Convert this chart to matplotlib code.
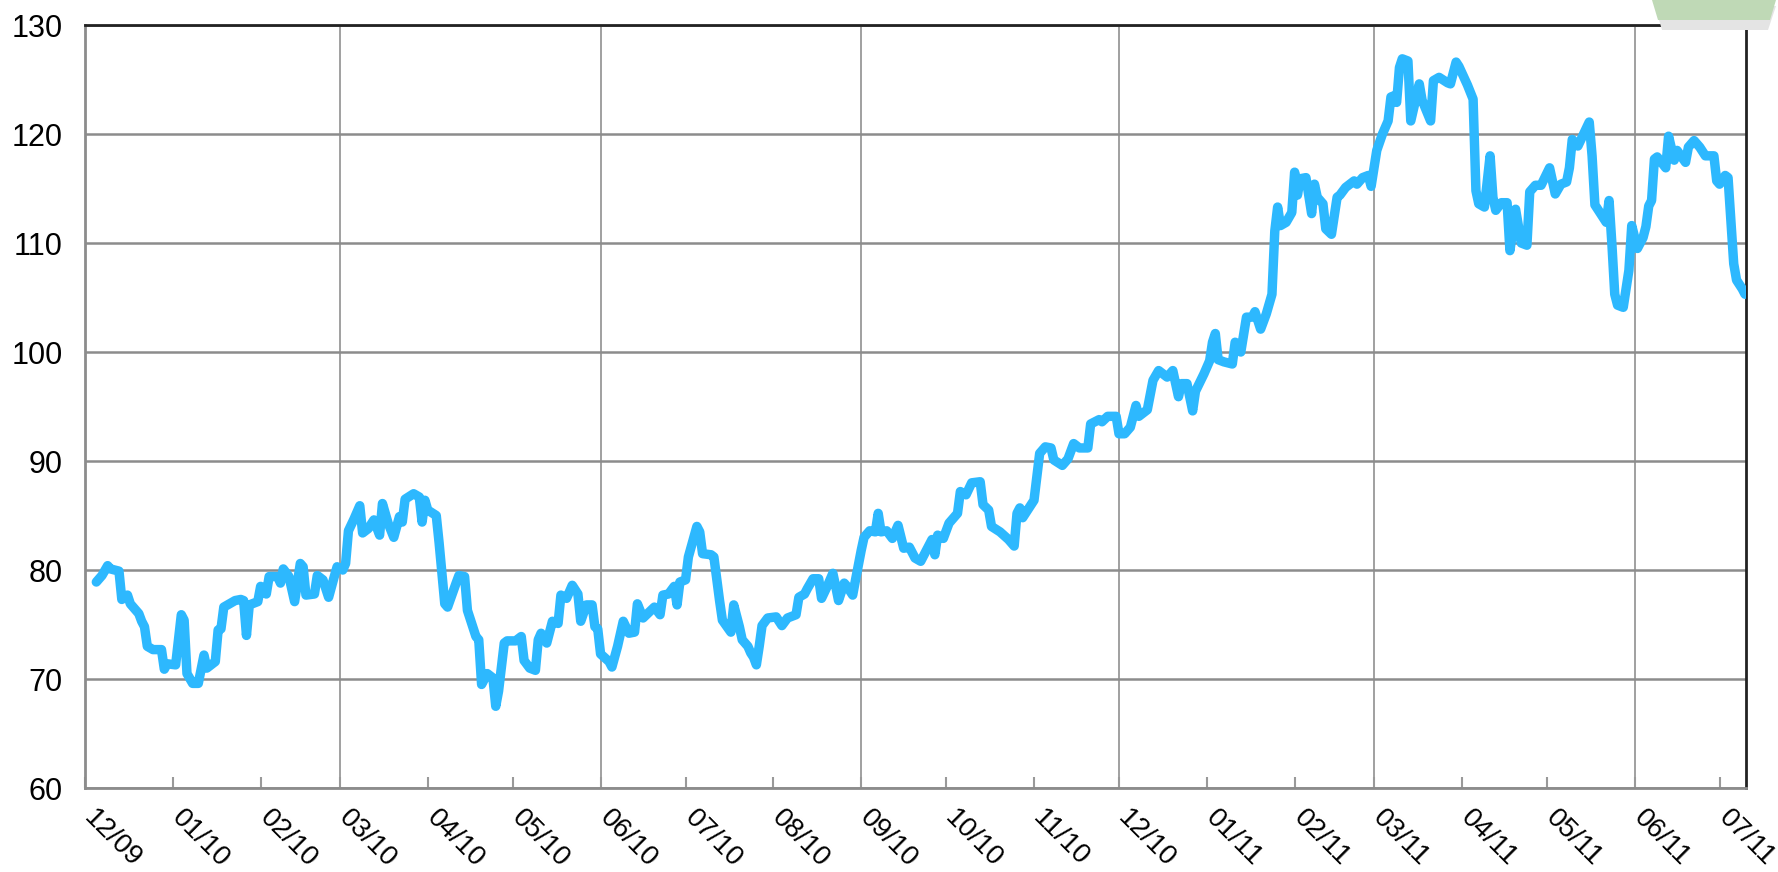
import matplotlib
matplotlib.use('Agg')
from matplotlib import pyplot as plt
import matplotlib.dates as mdates
import matplotlib.transforms as mtransforms
from matplotlib.patches import Polygon
import pandas as pd

plt.rcParams['font.family'] = ['Liberation Sans', 'DejaVu Sans']

# daily series (12/2009 - 07/2011)
dates = [
    '2009-12-05', '2009-12-07', '2009-12-09', '2009-12-10', '2009-12-13', '2009-12-14', '2009-12-16', '2009-12-17',
    '2009-12-20', '2009-12-21', '2009-12-22', '2009-12-23', '2009-12-25', '2009-12-28', '2009-12-29', '2009-12-30',
    '2010-01-02', '2010-01-04', '2010-01-05', '2010-01-06', '2010-01-08', '2010-01-10', '2010-01-12', '2010-01-13',
    '2010-01-16', '2010-01-17', '2010-01-18', '2010-01-19', '2010-01-23', '2010-01-25', '2010-01-26', '2010-01-27',
    '2010-01-28', '2010-01-31',
    '2010-02-01', '2010-02-03', '2010-02-04', '2010-02-07', '2010-02-08', '2010-02-09', '2010-02-11', '2010-02-13',
    '2010-02-15', '2010-02-16', '2010-02-17', '2010-02-20', '2010-02-21', '2010-02-23', '2010-02-25', '2010-02-27',
    '2010-02-28',
    '2010-03-02', '2010-03-03', '2010-03-04', '2010-03-06', '2010-03-08', '2010-03-09', '2010-03-11', '2010-03-13',
    '2010-03-15', '2010-03-16', '2010-03-18', '2010-03-20', '2010-03-22', '2010-03-23', '2010-03-24', '2010-03-27',
    '2010-03-29', '2010-03-30', '2010-03-31',
    '2010-04-01', '2010-04-04', '2010-04-05', '2010-04-07', '2010-04-08', '2010-04-11', '2010-04-12', '2010-04-14',
    '2010-04-15', '2010-04-18', '2010-04-19', '2010-04-20', '2010-04-22', '2010-04-24', '2010-04-25', '2010-04-26',
    '2010-04-28', '2010-04-29',
    '2010-05-02', '2010-05-04', '2010-05-05', '2010-05-07', '2010-05-09', '2010-05-10', '2010-05-11', '2010-05-13',
    '2010-05-15', '2010-05-17', '2010-05-18', '2010-05-20', '2010-05-22', '2010-05-24', '2010-05-25', '2010-05-27',
    '2010-05-29', '2010-05-30', '2010-05-31',
    '2010-06-01', '2010-06-04', '2010-06-05', '2010-06-07', '2010-06-09', '2010-06-11', '2010-06-13', '2010-06-14',
    '2010-06-16', '2010-06-20', '2010-06-22', '2010-06-23', '2010-06-25', '2010-06-27', '2010-06-28', '2010-06-29',
    '2010-07-01', '2010-07-02', '2010-07-05', '2010-07-06', '2010-07-07', '2010-07-10', '2010-07-11', '2010-07-13',
    '2010-07-14', '2010-07-17', '2010-07-18', '2010-07-20', '2010-07-21', '2010-07-23', '2010-07-24', '2010-07-25',
    '2010-07-26', '2010-07-27', '2010-07-28', '2010-07-30',
    '2010-08-02', '2010-08-04', '2010-08-06', '2010-08-09', '2010-08-10', '2010-08-12', '2010-08-13', '2010-08-15',
    '2010-08-17', '2010-08-18', '2010-08-20', '2010-08-22', '2010-08-23', '2010-08-24', '2010-08-26', '2010-08-27',
    '2010-08-29', '2010-08-30',
    '2010-09-01', '2010-09-02', '2010-09-04', '2010-09-06', '2010-09-07', '2010-09-08', '2010-09-10', '2010-09-12',
    '2010-09-14', '2010-09-16', '2010-09-18', '2010-09-20', '2010-09-22', '2010-09-24', '2010-09-26', '2010-09-27',
    '2010-09-28', '2010-09-30',
    '2010-10-02', '2010-10-05', '2010-10-06', '2010-10-08', '2010-10-10', '2010-10-13', '2010-10-14', '2010-10-16',
    '2010-10-17', '2010-10-20', '2010-10-23', '2010-10-25', '2010-10-26', '2010-10-27', '2010-10-28', '2010-10-31',
    '2010-11-01', '2010-11-03', '2010-11-05', '2010-11-07', '2010-11-08', '2010-11-11', '2010-11-13', '2010-11-15',
    '2010-11-17', '2010-11-20', '2010-11-21', '2010-11-24', '2010-11-25', '2010-11-27', '2010-11-30',
    '2010-12-01', '2010-12-03', '2010-12-05', '2010-12-07', '2010-12-08', '2010-12-11', '2010-12-13', '2010-12-15',
    '2010-12-18', '2010-12-20', '2010-12-22', '2010-12-23', '2010-12-25', '2010-12-27', '2010-12-28', '2010-12-31',
    '2011-01-02', '2011-01-03', '2011-01-04', '2011-01-05', '2011-01-07', '2011-01-10', '2011-01-11', '2011-01-13',
    '2011-01-15', '2011-01-17', '2011-01-18', '2011-01-20', '2011-01-22', '2011-01-24', '2011-01-25', '2011-01-26',
    '2011-01-27', '2011-01-29', '2011-01-31',
    '2011-02-01', '2011-02-02', '2011-02-03', '2011-02-05', '2011-02-07', '2011-02-08', '2011-02-09', '2011-02-11',
    '2011-02-12', '2011-02-14', '2011-02-16', '2011-02-17', '2011-02-19', '2011-02-22', '2011-02-23', '2011-02-25',
    '2011-02-27', '2011-02-28',
    '2011-03-02', '2011-03-04', '2011-03-06', '2011-03-07', '2011-03-08', '2011-03-09', '2011-03-10', '2011-03-11',
    '2011-03-13', '2011-03-14', '2011-03-17', '2011-03-18', '2011-03-21', '2011-03-22', '2011-03-24', '2011-03-27',
    '2011-03-28', '2011-03-30', '2011-03-31',
    '2011-04-03', '2011-04-05', '2011-04-06', '2011-04-07', '2011-04-09', '2011-04-11', '2011-04-12', '2011-04-13',
    '2011-04-15', '2011-04-17', '2011-04-18', '2011-04-20', '2011-04-22', '2011-04-24', '2011-04-25', '2011-04-27',
    '2011-04-29',
    '2011-05-02', '2011-05-04', '2011-05-06', '2011-05-08', '2011-05-09', '2011-05-10', '2011-05-12', '2011-05-14',
    '2011-05-16', '2011-05-17', '2011-05-18', '2011-05-20', '2011-05-22', '2011-05-23', '2011-05-24', '2011-05-25',
    '2011-05-26', '2011-05-28', '2011-05-30', '2011-05-31',
    '2011-06-02', '2011-06-04', '2011-06-05', '2011-06-06', '2011-06-07', '2011-06-08', '2011-06-09', '2011-06-12',
    '2011-06-13', '2011-06-15', '2011-06-16', '2011-06-19', '2011-06-20', '2011-06-22', '2011-06-24', '2011-06-26',
    '2011-06-29', '2011-06-30',
    '2011-07-01', '2011-07-03', '2011-07-04', '2011-07-06', '2011-07-07', '2011-07-09', '2011-07-10',
]
values = [
    78.9, 79.5, 80.4, 80.1, 79.9, 77.3, 77.7, 76.9,
    76.0, 75.3, 74.8, 73.0, 72.7, 72.7, 70.9, 71.4,
    71.3, 75.9, 75.4, 70.5, 69.6, 69.6, 72.2, 71.0,
    71.6, 74.5, 74.6, 76.6, 77.2, 77.3, 77.2, 74.0,
    76.8, 77.1,
    78.5, 77.8, 79.4, 79.4, 78.8, 80.1, 79.4, 77.1,
    80.6, 80.3, 77.7, 77.8, 79.5, 79.1, 77.5, 79.4,
    80.3,
    80.0, 80.6, 83.6, 84.7, 85.9, 83.4, 83.8, 84.6,
    83.2, 86.1, 84.3, 83.0, 84.9, 84.4, 86.5, 87.0,
    86.7, 84.4, 86.4,
    85.5, 85.0, 82.5, 76.9, 76.6, 78.8, 79.5, 79.4,
    76.3, 73.9, 73.6, 69.5, 70.5, 70.1, 67.5, 68.9,
    73.3, 73.5,
    73.5, 73.9, 71.7, 71.0, 70.8, 73.6, 74.2, 73.3,
    75.3, 75.1, 77.7, 77.4, 78.6, 77.8, 75.3, 76.8,
    76.8, 74.8, 74.6,
    72.3, 71.6, 71.1, 73.0, 75.3, 74.2, 74.3, 76.9,
    75.6, 76.6, 75.9, 77.7, 77.8, 78.5, 76.8, 78.9,
    79.1, 81.2, 84.0, 83.5, 81.5, 81.4, 81.2, 77.2,
    75.4, 74.3, 76.8, 74.8, 73.6, 73.0, 72.4, 72.0,
    71.3, 73.0, 74.9, 75.6,
    75.7, 74.9, 75.6, 75.9, 77.5, 77.8, 78.3, 79.2,
    79.2, 77.4, 78.5, 79.7, 78.5, 77.2, 78.8, 78.5,
    77.7, 79.1,
    81.8, 83.0, 83.6, 83.5, 85.2, 83.5, 83.6, 82.9,
    84.1, 82.0, 82.1, 81.1, 80.8, 81.8, 82.8, 81.4,
    83.2, 82.9,
    84.3, 85.2, 87.2, 86.9, 88.0, 88.1, 86.0, 85.5,
    84.0, 83.5, 82.8, 82.2, 85.2, 85.7, 84.8, 86.0,
    86.4, 90.7, 91.3, 91.2, 90.1, 89.6, 90.2, 91.6,
    91.2, 91.2, 93.4, 93.8, 93.6, 94.1, 94.1,
    92.5, 92.5, 93.1, 95.1, 94.1, 94.7, 97.4, 98.3,
    97.7, 98.3, 95.9, 97.1, 97.1, 94.6, 96.4, 98.0,
    99.2, 100.9, 101.7, 99.3, 99.1, 98.9, 100.9, 100.0,
    103.2, 103.2, 103.7, 102.1, 103.5, 105.3, 111.1, 113.3,
    111.6, 111.9, 112.8,
    116.5, 114.4, 115.9, 116.0, 112.7, 115.4, 114.2, 113.6,
    111.3, 110.8, 114.2, 114.4, 115.1, 115.7, 115.4, 116.0,
    116.2, 115.2,
    118.5, 120.0, 121.2, 123.4, 123.5, 122.9, 126.1, 126.9,
    126.7, 121.2, 124.6, 123.1, 121.2, 124.9, 125.2, 124.7,
    124.6, 126.6, 126.2,
    124.5, 123.2, 114.8, 113.6, 113.3, 118.0, 114.2, 113.0,
    113.7, 113.7, 109.3, 113.1, 110.0, 109.8, 114.7, 115.3,
    115.3,
    116.9, 114.5, 115.4, 115.6, 116.9, 119.5, 118.9, 120.0,
    121.1, 118.0, 113.5, 112.7, 111.9, 113.9, 109.9, 105.3,
    104.3, 104.1, 107.5, 111.6,
    109.5, 110.5, 111.5, 113.4, 113.9, 117.7, 117.9, 116.9,
    119.8, 117.6, 118.5, 117.4, 118.8, 119.4, 118.8, 118.0,
    118.0, 115.7,
    115.4, 116.2, 116.0, 108.1, 106.6, 105.8, 105.3,
]
y_ticks = [60, 70, 80, 90, 100, 110, 120, 130]
grid_months = ['2010-03-01', '2010-06-01', '2010-09-01', '2010-12-01', '2011-03-01', '2011-06-01']

x = pd.to_datetime(dates)

fig = plt.figure(figsize=(17.78, 8.72), dpi=100)
ax = fig.add_axes([0.0478, 0.0963, 0.9342, 0.875])

ax.plot(x, values, color='#2db8fe', lw=6.8, solid_joinstyle='round', solid_capstyle='round', zorder=3)

ax.set_xlim(pd.Timestamp('2009-12-01'), pd.Timestamp('2011-07-10 08:00'))
ax.set_ylim(60, 130)
ax.set_yticks(y_ticks)

# quarterly vertical grid lines
for d in pd.to_datetime(grid_months):
    ax.axvline(d, color='#999999', lw=1.3, zorder=1)
ax.grid(which='major', axis='y', color='#8c8c8c', lw=1.8, zorder=1)

# monthly ticks + labels
ax.xaxis.set_major_locator(mdates.MonthLocator())
ax.xaxis.set_major_formatter(mdates.DateFormatter('%m/%y'))
ax.tick_params(axis='x', which='major', direction='in', length=8, width=1.5, color='#999999',
               labelsize=20, pad=12)
ax.tick_params(axis='y', length=0, labelsize=22, pad=16)
shift = mtransforms.ScaledTranslation(0.12, 0, fig.dpi_scale_trans)
for lab in ax.get_xticklabels():
    lab.set_rotation(-45)
    lab.set_ha('left')
    lab.set_va('top')
    lab.set_rotation_mode('anchor')
    lab.set_transform(lab.get_transform() + shift)

for s in ['left', 'bottom']:
    ax.spines[s].set_color('#8c8c8c')
    ax.spines[s].set_linewidth(2)
for s in ['top', 'right']:
    ax.spines[s].set_color('#222222')
    ax.spines[s].set_linewidth(2)

# green tab in the top-right corner, with a soft shadow
fig.patches.append(Polygon([[1655, 872 - 6], [1662, 872 - 30], [1768, 872 - 30], [1776, 872 - 6]],
                           closed=True, transform=None, facecolor='#e4e4e4', edgecolor='none'))
fig.patches.append(Polygon([[1652, 872 - 0], [1658, 872 - 20], [1770, 872 - 20], [1776, 872 - 0]],
                           closed=True, transform=None, facecolor='#bfd9b6', edgecolor='none'))

fig.savefig('out.png', dpi=100)
